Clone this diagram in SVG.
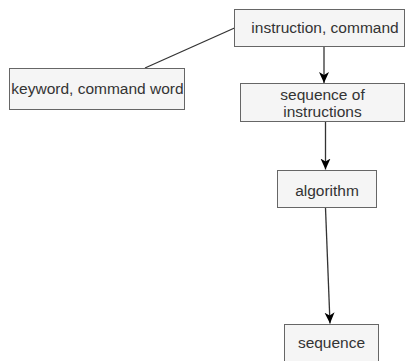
<svg xmlns="http://www.w3.org/2000/svg" width="406" height="361" viewBox="0 0 406 361">
<defs>
<style>
.box{fill:#f5f5f5;stroke:#666666;stroke-width:1}
.lbl{font-family:"Liberation Sans",Arial,sans-serif;font-size:15.5px;fill:#333333;text-anchor:middle}
.edge{stroke:#333333;stroke-width:1.3;fill:none}
</style>
<marker id="arr" markerWidth="12" markerHeight="12" viewBox="0 0 12 12" refX="11" refY="6" orient="auto" markerUnits="userSpaceOnUse">
<path d="M0,1 L11,6 L0,11 L3,6 Z" fill="#000000"/>
</marker>
</defs>
<g id="connectors">
<line class="edge" x1="145" y1="68" x2="234.5" y2="28"/>
<line class="edge" x1="324" y1="46.5" x2="324" y2="83" marker-end="url(#arr)"/>
<line class="edge" x1="325.5" y1="121.5" x2="325.5" y2="169.5" marker-end="url(#arr)"/>
<line class="edge" x1="325.5" y1="208" x2="330" y2="323.5" marker-end="url(#arr)"/>
</g>
<g id="instruction">
<rect class="box" x="234.5" y="9.5" width="170" height="37"/>
<text class="lbl" x="325" y="33">instruction, command</text>
</g>
<g id="keyword">
<rect class="box" x="9.5" y="68.5" width="175" height="41"/>
<text class="lbl" x="97.5" y="94">keyword, command word</text>
</g>
<g id="seqinstr">
<rect class="box" x="240.5" y="83.5" width="164" height="38"/>
<text class="lbl" x="322.5" y="99.5">sequence of</text>
<text class="lbl" x="322.5" y="116.5">instructions</text>
</g>
<g id="algorithm">
<rect class="box" x="277.5" y="170.5" width="99" height="37"/>
<text class="lbl" x="327" y="196">algorithm</text>
</g>
<g id="sequence">
<rect class="box" x="284.5" y="324.5" width="94" height="37"/>
<text class="lbl" x="331.5" y="348">sequence</text>
</g>
</svg>
